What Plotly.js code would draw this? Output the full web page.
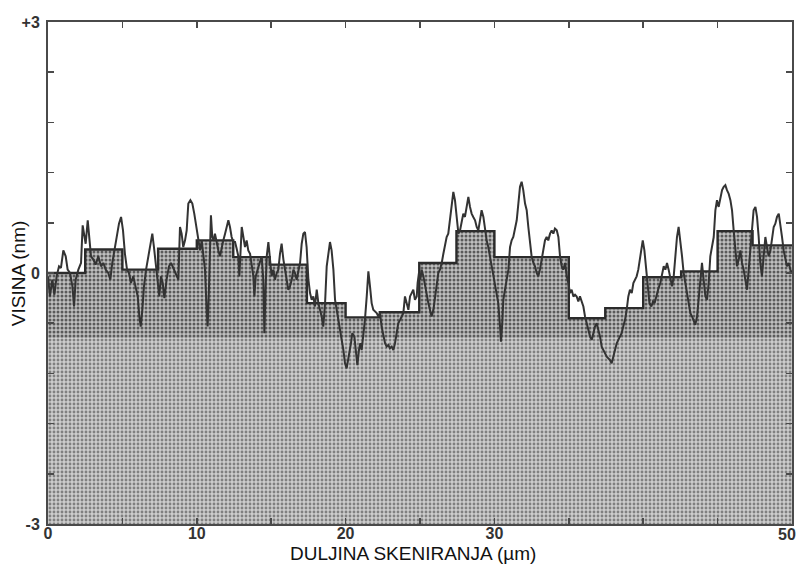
<!DOCTYPE html>
<html>
<head>
<meta charset="utf-8">
<script src="https://cdn.plot.ly/plotly-3.0.1.min.js"></script>
<style>html,body{margin:0;padding:0;background:#fff;}#chart{width:797px;height:565px;}</style>
</head>
<body>
<div id="chart"></div>
<script>
// Measured surface profile (x in µm, height in nm)
var profileX = [0.00,0.13,0.29,0.43,0.58,0.74,0.87,1.03,1.19,1.32,1.48,1.64,1.75,1.86,2.04,2.22,2.33,2.44,2.53,2.67,2.78,2.89,3.05,3.20,3.38,3.56,3.72,3.88,4.05,4.19,4.32,4.46,4.61,4.77,4.91,5.04,5.17,5.31,5.44,5.58,5.73,5.89,6.03,6.14,6.23,6.34,6.45,6.59,6.74,6.90,7.01,7.12,7.26,7.37,7.48,7.59,7.71,7.82,7.97,8.13,8.27,8.42,8.58,8.76,8.87,8.98,9.09,9.21,9.32,9.43,9.57,9.70,9.83,9.99,10.15,
10.22,10.33,10.44,10.55,10.66,10.73,10.82,10.89,10.95,11.04,11.13,11.22,11.34,11.45,11.56,11.67,11.78,11.90,12.01,12.12,12.23,12.34,12.46,12.57,12.68,12.79,12.86,12.93,13.02,13.13,13.24,13.35,13.46,13.58,13.69,13.80,13.87,13.96,14.09,14.25,14.36,14.47,14.54,14.63,14.70,14.81,14.92,15.03,15.14,15.25,15.37,15.48,15.59,15.70,15.82,15.93,16.04,16.15,16.26,16.38,16.49,16.60,16.71,16.82,16.94,17.05,17.16,17.27,17.38,17.50,17.61,17.72,17.83,17.94,18.06,18.17,18.28,18.39,18.50,18.62,18.73,18.84,18.95,19.06,19.18,19.29,19.40,19.51,19.62,19.73,19.85,19.96,20.07,
20.36,20.45,20.59,20.70,20.79,20.90,20.99,21.08,21.19,21.30,21.42,21.53,21.64,21.75,21.86,21.98,22.09,22.20,22.31,22.42,22.54,22.65,22.76,22.87,22.98,23.10,23.21,23.32,23.43,23.54,23.66,23.77,23.88,23.99,24.10,24.22,24.33,24.44,24.55,24.66,24.78,24.84,24.93,25.02,25.11,25.23,25.34,25.45,25.56,25.67,25.78,25.90,26.01,26.12,26.23,26.34,26.46,26.57,26.68,26.79,26.90,27.02,27.13,27.24,27.35,27.46,27.58,27.69,27.80,27.91,28.02,28.14,28.25,28.36,28.47,28.58,28.70,28.81,28.92,29.03,29.14,29.26,29.37,29.48,29.59,29.70,29.82,29.93,30.04,
30.15,30.26,30.38,30.44,30.53,30.60,30.71,30.82,30.94,31.05,31.16,31.27,31.38,31.50,31.61,31.72,31.83,31.94,32.06,32.17,32.28,32.39,32.50,32.62,32.73,32.84,32.95,33.06,33.18,33.29,33.40,33.51,33.62,33.74,33.85,33.96,34.07,34.19,34.30,34.41,34.52,34.63,34.75,34.86,34.97,35.08,35.19,35.31,35.42,35.53,35.64,35.75,35.87,35.98,36.09,36.20,36.31,36.43,36.54,36.65,36.76,36.87,36.99,37.10,37.21,37.32,37.43,37.55,37.66,37.77,37.88,37.99,38.10,38.22,38.33,38.44,38.55,38.66,38.78,38.89,39.00,39.11,39.23,39.34,39.45,39.56,39.67,39.79,39.90,39.97,40.08,40.19,40.31,40.42,
40.55,40.66,40.77,40.86,41.00,41.15,41.26,41.38,41.49,41.60,41.71,41.82,41.94,42.05,42.16,42.27,42.38,42.50,42.61,42.72,42.83,42.94,43.06,43.17,43.28,43.39,43.50,43.62,43.73,43.84,43.95,44.06,44.18,44.29,44.40,44.51,44.62,44.74,44.85,44.96,45.07,45.18,45.30,45.41,45.52,45.63,45.74,45.86,45.97,46.08,46.19,46.30,46.42,46.53,46.64,46.75,46.86,46.98,47.09,47.20,47.31,47.42,47.54,47.65,47.76,47.87,47.98,48.10,48.21,48.32,48.43,48.55,48.66,48.77,48.88,48.99,49.11,49.22,49.33,49.44,49.55,49.66,49.78,49.89,50.00];

var profileY = [-0.04,-0.28,-0.08,-0.26,-0.04,0.08,0.06,0.27,0.20,0.04,0.00,-0.16,-0.40,-0.08,0.04,0.12,0.57,0.43,0.35,0.63,0.43,0.20,0.16,0.10,0.20,0.08,0.12,0.04,0.00,-0.08,0.12,0.27,0.43,0.59,0.67,0.51,0.23,0.04,0.00,-0.12,-0.04,-0.16,-0.28,-0.52,-0.64,-0.44,-0.16,0.04,0.20,0.39,0.47,0.31,0.08,-0.08,-0.28,-0.04,-0.12,-0.30,-0.08,0.08,0.12,0.06,0.00,-0.08,0.55,0.47,0.31,0.39,0.51,0.83,0.87,0.83,0.71,0.55,0.37,
0.27,0.39,0.23,0.04,-0.44,-0.64,-0.16,0.43,0.69,0.43,0.39,0.47,0.35,0.27,0.20,0.31,0.39,0.47,0.55,0.63,0.55,0.43,0.37,0.37,0.29,0.20,-0.04,0.23,0.55,0.43,0.31,0.39,0.27,0.23,0.12,-0.04,-0.28,-0.04,0.04,0.12,0.20,-0.08,-0.72,-0.16,0.20,0.37,0.12,-0.04,0.04,-0.08,0.00,0.04,0.23,0.35,0.16,0.04,-0.08,-0.20,-0.16,-0.08,0.04,0.00,-0.08,0.00,0.12,0.35,0.47,0.49,0.31,-0.08,-0.24,-0.32,-0.28,-0.40,-0.20,-0.36,-0.44,-0.52,-0.64,-0.36,0.08,0.23,0.37,0.27,0.04,-0.32,-0.44,-0.56,-0.68,-0.76,-0.92,-1.08,-1.14,
-0.84,-0.72,-0.76,-1.00,-1.10,-0.92,-0.84,-0.92,-0.76,-0.56,-0.28,0.02,-0.16,-0.36,-0.44,-0.46,-0.48,-0.52,-0.48,-0.64,-0.76,-0.84,-0.88,-0.86,-0.90,-0.88,-0.92,-0.84,-0.72,-0.60,-0.56,-0.52,-0.48,-0.28,-0.36,-0.44,-0.28,-0.24,-0.20,-0.32,-0.28,-0.12,0.00,-0.08,0.04,-0.04,-0.16,-0.28,-0.36,-0.44,-0.52,-0.44,-0.28,-0.12,0.00,0.04,0.12,0.23,0.35,0.43,0.47,0.63,0.83,0.97,0.87,0.67,0.47,0.51,0.63,0.71,0.67,0.79,0.91,0.79,0.71,0.67,0.63,0.55,0.51,0.63,0.75,0.67,0.51,0.39,0.31,0.20,0.08,0.00,-0.12,
-0.20,-0.36,-0.64,-0.82,-0.60,-0.32,-0.20,-0.08,0.04,0.31,0.39,0.43,0.55,0.63,0.83,1.03,1.09,0.99,0.83,0.75,0.55,0.35,0.20,0.12,0.08,0.00,-0.04,0.04,0.16,0.27,0.39,0.43,0.39,0.47,0.51,0.47,0.53,0.51,0.43,0.20,0.08,0.04,0.12,-0.04,-0.12,-0.24,-0.20,-0.28,-0.26,-0.28,-0.34,-0.28,-0.36,-0.40,-0.52,-0.60,-0.68,-0.76,-0.80,-0.72,-0.64,-0.60,-0.68,-0.76,-0.88,-0.92,-0.96,-1.00,-1.02,-1.04,-1.08,-1.00,-0.92,-0.84,-0.80,-0.76,-0.72,-0.64,-0.56,-0.44,-0.28,-0.20,-0.24,-0.12,-0.08,-0.04,0.04,0.20,0.31,0.39,0.27,0.04,-0.20,-0.36,
-0.40,-0.34,-0.36,-0.28,-0.20,-0.12,-0.04,0.08,0.04,0.12,0.04,-0.08,-0.16,-0.04,0.20,0.43,0.55,0.39,0.20,0.00,-0.12,-0.28,-0.40,-0.48,-0.52,-0.56,-0.62,-0.52,-0.32,-0.04,0.12,-0.08,-0.28,-0.32,-0.12,0.20,0.31,0.43,0.75,0.87,0.79,0.91,0.99,1.03,1.05,0.99,0.95,0.87,0.75,0.51,0.27,0.08,0.16,0.27,0.12,0.04,-0.08,-0.20,0.04,0.27,0.55,0.75,0.79,0.67,0.43,0.12,-0.04,0.23,0.43,0.31,0.20,0.27,0.43,0.55,0.59,0.67,0.71,0.59,0.43,0.27,0.16,0.08,0.12,0.04,0.00];

// Step (segment-averaged) profile: segment edges (µm) and levels (nm)
var stepEdges = [0,2.5,5,7.4,10,12.45,14.9,17.4,20,22.3,24.95,27.45,30,35,37.45,40,42.55,45,47.35,50];
var stepLevels = [0.00,0.28,0.04,0.29,0.39,0.19,0.10,-0.36,-0.53,-0.47,0.12,0.50,0.19,-0.54,-0.42,-0.05,0.02,0.50,0.33];
var bandLevel = -0.78;   // lower edge of the darker shaded band
var yMin = -3, yMax = 3, xMin = 0, xMax = 50;

var xTickVals = [0,5,10,15,20,25,30,35,40,45,50];
var xTickText = ['0','','10','','20','','30','','','',''];
var xEndLabel = '50';
var yTickVals = [-3,-2.4,-1.8,-1.2,-0.6,0,0.6,1.2,1.8,2.4,3];
var yTickText = ['-3','','','','','0','','','','','+3'];

var xTitle = 'DULJINA SKENIRANJA (µm)';
var yTitle = 'VISINA (nm)';

var stepY = stepLevels.concat([stepLevels[stepLevels.length - 1]]);

var traces = [
  {x: [xMin, xMax], y: [yMin, yMin], mode: 'lines', line: {width: 0, color: 'rgba(0,0,0,0)'}, hoverinfo: 'skip', showlegend: false},
  {x: [xMin, xMax], y: [bandLevel, bandLevel], mode: 'lines', line: {width: 0, color: 'rgba(0,0,0,0)'},
   fill: 'tonexty', fillcolor: '#c0c0c0',
   fillpattern: {shape: '.', bgcolor: '#cdcdcd', fgcolor: '#808080', size: 4, solidity: 0.4},
   hoverinfo: 'skip', showlegend: false},
  {x: stepEdges, y: stepY, mode: 'lines', line: {shape: 'hv', width: 2.4, color: '#2b2b2b'},
   fill: 'tonexty', fillcolor: '#a9a9a9',
   fillpattern: {shape: '.', bgcolor: '#c0c0c0', fgcolor: '#5a5a5a', size: 4, solidity: 0.45},
   showlegend: false},
  {x: profileX, y: profileY, mode: 'lines', line: {width: 2, color: '#333333'}, showlegend: false}
];

var tickFont = {family: 'Liberation Sans, Arial, sans-serif', size: 16, color: '#333', weight: 'bold'};
var titleFont = {family: 'Liberation Sans, Arial, sans-serif', size: 19, color: '#111'};

var layout = {
  width: 797, height: 565,
  margin: {l: 48, r: 5, t: 22, b: 41},
  paper_bgcolor: '#ffffff', plot_bgcolor: '#ffffff',
  showlegend: false,
  xaxis: {
    range: [xMin, xMax], showgrid: false, zeroline: false,
    showline: true, linecolor: '#4a4a4a', linewidth: 2, mirror: 'ticks',
    ticks: 'inside', ticklen: 6, tickwidth: 1.5, tickcolor: '#4a4a4a',
    tickvals: xTickVals, ticktext: xTickText, tickfont: tickFont, ticklabelstandoff: -6,
    ticklabeloverflow: 'allow',
    automargin: false
  },
  yaxis: {
    range: [yMin, yMax], showgrid: false, zeroline: false,
    showline: true, linecolor: '#4a4a4a', linewidth: 2, mirror: 'ticks',
    ticks: 'inside', ticklen: 6, tickwidth: 1.5, tickcolor: '#4a4a4a',
    tickvals: yTickVals, ticktext: yTickText, tickfont: tickFont,
    ticklabeloverflow: 'allow', ticklabelstandoff: 3,
    automargin: false
  },
  annotations: [
    {text: xEndLabel, xref: 'x', yref: 'paper', x: xMax, y: 0, xanchor: 'right', yanchor: 'top',
     xshift: 5, yshift: -1, showarrow: false, font: tickFont, borderpad: 0},
    {text: xTitle, xref: 'paper', yref: 'paper', x: 0.491, y: -0.0817, xanchor: 'center', yanchor: 'bottom',
     showarrow: false, font: titleFont, borderpad: 0},
    {text: yTitle, xref: 'paper', yref: 'paper', x: -0.04, y: 0.5, xanchor: 'center', yanchor: 'middle',
     textangle: -90, showarrow: false, font: {family: titleFont.family, size: 19, color: '#111'}}
  ]
};

Plotly.newPlot('chart', traces, layout, {staticPlot: true, displayModeBar: false});
</script>
</body>
</html>
